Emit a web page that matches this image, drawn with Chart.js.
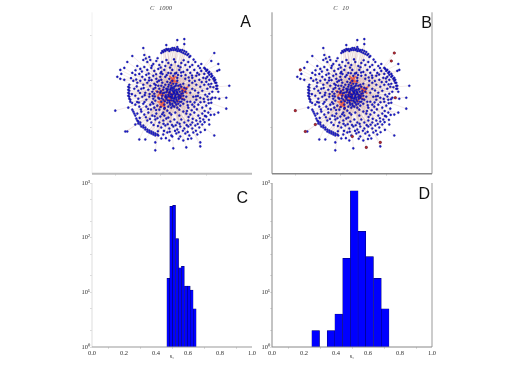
<!DOCTYPE html>
<html>
<head>
<meta charset="utf-8">
<script src="https://cdn.jsdelivr.net/npm/chart.js@4/dist/chart.umd.min.js"></script>
<style>
  html, body { margin: 0; background: #fff; }
  #wrap { position: relative; width: 518px; height: 366px; overflow: hidden; }
  canvas { position: absolute; }
</style>
</head>
<body>
<div id="wrap">
  <canvas id="panelA" width="190" height="178" style="left:70px;top:0"></canvas>
  <canvas id="panelB" width="190" height="178" style="left:250px;top:0"></canvas>
  <canvas id="panelC" width="190" height="182" style="left:70px;top:178px"></canvas>
  <canvas id="panelD" width="190" height="182" style="left:250px;top:178px"></canvas>
</div>
<script>
// graph nodes (same layout in A and B)
const arcNodes = [
  [-12,42],[-11,44],[-10,43],[-9,45],[-8,44],[-7,46],[-6,45],[-5,46],[-4,44],[-3,46],[-2,45],[-1,47],[0,45],[1,47],[2,45],[3,46],[4,44],[5,46],[6,44],[7,45],[8,43],[9,45],[10,42],[11,44],[12,41],[13,43],[14,40],[15,41],[16,38],[17,39],
  [32,26],[33,24],[34,25],[35,22],[36,23],[36,20],[38,21],[38,18],[39,19],[40,16],[41,17],[41,14],[42,15],[42,12],[43,12],[43,9],[44,9],[43,6],[44,6],
  [-44,10],[-45,8],[-44,7],[-45,5],[-44,4],[-45,2],[-44,1],[-45,-1],[-44,-2],[-44,-4],[-43,-5],[-43,-7],
  [-41,-15],[-40,-17],[-39,-19],[-38,-21],[-37,-24],[-36,-26],[-35,-27],[-35,-29],[-33,-28],[-33,-30],[-32,-32],[-30,-31],[-30,-33],[-28,-33],[-28,-35],[-26,-35],[-26,-37],[-24,-36],[-24,-38],[-22,-37],[-22,-39],[-20,-38],[-20,-40],[-18,-39],[-18,-41],[-16,-40],[-15,-41]
];
const outerNodes = [
  [-7,50],[4,48],[11,56],[4,55],[11,51],[41,42],[38,34],[45,31],[46,25],[44,24],[56,9],[45,3],[42,-3],[46,-4],[53,-3],[53,-14],[45,-18],[41,-20],[36,-30],[41,-41],[27,-48],[27,-52],[13,-53],[0,-54],[-18,-56],[-18,-48],[-28,-45],[-34,-45],[-46,-37],[-48,-37],[-58,-16],[-45,-13],[-56,18],[-53,16],[-49,15],[-52,21],[-49,27],[-53,25],[-46,33],[-41,39],[-30,47],[-29,40],[-24,38],[-1,-42],[-38,-30]
];
const midNodes = [
  [-30,35],[-26,33],[-23,35],[-20,31],[-17,34],[-14,30],[-11,33],[-8,29],[-5,32],[-2,30],[2,33],[5,29],[8,32],[12,30],[15,33],[19,30],[22,33],[25,29],[28,31],[31,27],
  [-36,29],[-33,26],[-29,28],[-26,25],[-22,27],[-19,24],[-15,26],[-12,23],[-9,25],[-5,22],[-1,25],[3,22],[6,25],[10,23],[14,25],[17,22],[21,25],[24,22],[28,24],[31,21],[34,18],
  [-41,22],[-38,20],[-34,21],[-31,18],[-27,20],[-24,17],[-20,19],[-17,16],[-13,18],[19,17],[23,19],[26,15],[30,17],[33,13],[36,15],[38,11],
  [-40,14],[-36,12],[-33,14],[-30,10],[-26,12],[-23,9],[-19,11],[23,10],[27,8],[31,10],[34,6],[37,8],[39,3],
  [-39,6],[-35,4],[-32,6],[-28,2],[-25,5],[-21,3],[25,2],[29,4],[32,0],[36,1],[39,-3],
  [-38,-1],[-35,-4],[-31,-2],[-27,-5],[-24,-2],[-20,-4],[23,-5],[27,-3],[31,-7],[35,-5],[38,-8],
  [-38,-10],[-34,-12],[-30,-9],[-27,-12],[-23,-10],[-19,-13],[21,-12],[25,-10],[29,-13],[33,-11],[37,-14],
  [-36,-19],[-32,-17],[-29,-20],[-25,-18],[-21,-21],[-17,-19],[-13,-22],[17,-20],[21,-18],[25,-21],[29,-19],[33,-22],[35,-18],
  [-26,-26],[-22,-28],[-18,-25],[-14,-28],[-10,-26],[-7,-24],[-3,-27],[1,-25],[4,-28],[8,-25],[11,-28],[15,-26],[19,-28],[23,-26],[27,-27],[30,-25],
  [-12,-33],[-8,-31],[-4,-34],[0,-32],[4,-35],[7,-32],[11,-34],[15,-32],[19,-34],[22,-31],[26,-33],[29,-30],
  [-10,-40],[-6,-38],[-2,-41],[3,-39],[7,-42],[12,-39],[16,-41],[20,-38],[24,-40],[18,-44],[10,-46],[-4,-46],[-12,-44],
  [-16,13],[-12,15],[-8,18],[-4,16],[0,19],[4,17],[8,19],[12,16],[16,14],[19,12],[-18,7],[-15,9],[-19,1],[-16,3],[19,6],[17,2],[20,-2],[-18,-6],[-15,-3],[-20,-9],[-16,-11],[17,-7],[19,-10],[15,-13],[-14,-15],[-10,-18],[-6,-16],[-2,-20],[2,-18],[6,-21],[10,-17],[13,-19],[-9,-21],[-5,-23]
];
const looseNodes = [
  [-27.5,36.5],[-21.4,29.2],[-15.7,36.8],[-12.6,27.4],[-6.8,34.9],[-3.3,27.3],[0.7,35.6],[7.2,27.6],[10.4,34.7],[16.6,28.1],[20.3,35.4],[26.7,26.8],
  [-37.8,24.6],[-31.4,23.4],[-24.6,21.3],[-17.2,20.7],[-10.8,20.9],[-6.6,19.7],[1.6,21.3],[7.8,22.4],[12.3,19.8],[18.7,19.4],[25.8,20.3],[32.6,16.4],
  [-42.3,16.7],[-37.1,15.3],[-28.3,15.2],[-21.8,14.7],[-14.3,14.2],[15.4,17.3],[21.6,13.8],[28.4,12.7],[35.3,10.4],[40.1,7.6],
  [-41.4,0.6],[-36.6,8.4],[-33.3,1.7],[-29.6,6.7],[-23.7,0.8],[-18.4,-1.7],[21.7,4.3],[24.6,-1.2],[30.4,-4.2],[34.1,-1.7],[37.7,-4.6],
  [-41.2,-8.3],[-36.2,-7.4],[-32.4,-14.8],[-28.8,-7.3],[-25.2,-14.3],[-21.3,-7.6],[-17.2,-15.4],[18.4,-15.6],[23.6,-14.7],[27.2,-7.6],[31.4,-16.4],[35.4,-8.6],
  [-33.6,-23.3],[-27.4,-22.7],[-23.3,-24.4],[-18.6,-21.7],[-15.8,-23.6],[-11.2,-19.6],[15.3,-22.4],[19.4,-24.3],[26.6,-23.7],[31.7,-21.3],[37.4,-20.3],
  [-19.7,-30.4],[-15.4,-31.6],[-9.8,-29.3],[-5.6,-29.7],[-1.3,-30.4],[2.4,-30.7],[6.3,-29.3],[13.4,-30.6],[17.3,-30.2],[24.4,-29.4],[31.3,-27.6],[35.6,-25.3],
  [-15.4,-36.7],[-9.3,-36.4],[-3.6,-37.3],[1.7,-36.4],[5.4,-37.8],[9.6,-36.3],[14.3,-37.4],[22.6,-36.2],[27.3,-37.7],[31.6,-35.4],[14.7,-44.6],[5.4,-44.3],[-7.4,-43.7],
  [-24.3,14.4],[-28.6,-0.4],[-34.4,-7.8],[-19.8,5.7],[-22.3,-14.8],[-12.8,21.6],[-2.4,21.7],[4.7,19.8],[15.6,9.4],[21.3,-7.7],[13.7,-16.3],[-3.7,-18.4],[-8.7,-13.4],[-17.6,9.7],[-20.6,-1.3],[22.7,-1.6],[14.4,-10.7],[-12.6,-12.4]
];
const coreNodes = [
  [-14,6],[-12,9],[-10,5],[-13,2],[-11,-1],[-14,-4],[-12,-7],[-9,-10],[-10,-5],[-8,-2],[-9,2],[-7,6],[-8,10],[-6,13],[-5,8],[-6,4],[-5,0],[-7,-4],[-6,-8],[-5,-12],[-3,-10],[-4,-6],[-3,-2],[-4,2],[-3,5],[-2,9],[-3,12],[-1,14],[0,11],[-1,7],[0,3],[-1,0],[-2,-3],[0,-6],[-1,-9],[-2,-13],[1,-12],[2,-8],[1,-4],[2,-1],[1,2],[3,5],[1,8],[3,11],[4,14],[5,9],[6,6],[4,2],[5,-2],[3,-5],[5,-9],[4,-13],[7,-11],[8,-7],[7,-3],[8,1],[9,4],[8,8],[10,11],[11,7],[12,3],[10,-1],[11,-5],[10,-9],[13,-2],[14,-7],[13,6],[-11,12],[-9,-14],[6,-15],
  [-12.5,3.5],[-11.5,-3.5],[-10.5,1.5],[-9.5,7.5],[-8.5,-6.5],[-7.5,-0.5],[-7,2.5],[-6.5,-2.5],[-5.5,5.5],[-5.5,-5.5],[-4.5,-1.5],[-4.5,10],[-3.5,-8],[-3.5,3],[-2.5,0.5],[-2.5,6.5],[-2,-5.5],[-1.5,-1.5],[-1,4.5],[-0.5,-11],[-0.5,-3.5],[0.5,1],[0.5,6],[1,-7],[1.5,-2.5],[1.5,4],[2.5,0.5],[2.5,9],[3,-3],[3,-10],[3.5,3],[4,-6.5],[4.5,0.5],[5,5],[5.5,-4],[6,-0.5],[6.5,3],[6.5,-7],[7,10],[7.5,-1.5],[9,-4.5],[9.5,1.5]
];
// nodes that are red in panel B only
const redNodes = [[41,42],[38,34],[-53,25],[-58,-16],[-48,-37],[27,-48],[13,-53],[-1,-42],[-38,-30],[42,-3]];

const edgeHubs = [[-10,-8],[0,15],[10,5],[-13,2],[-5,-2],[5,-5],[0,0],[-3,6]];
const hotEdges = [
  [[-10,-8],[-14,-13]],[[-10,-8],[-8,-15]],[[-10,-8],[-16,-7]],[[-10,-8],[-6,-4]],[[-11,-10],[-13,-5]],[[-12,-11],[-8,-12]],[[-9,-12],[-14,-9]],
  [[0,15],[-4,19]],[[0,15],[3,19]],[[0,15],[-2,10]],[[0,15],[5,12]],[[1,18],[-3,13]],[[-2,17],[2,12]],
  [[10,5],[15,8]],[[10,5],[14,1]],[[10,5],[6,9]],[[10,5],[8,0]],[[12,7],[9,2]],[[13,4],[8,6]],
  [[-13,2],[-18,4]],[[-13,2],[-16,-2]],[[-13,2],[-9,-1]],[[-13,2],[-10,6]],[[-15,3],[-11,-2]],
  [[-5,-2],[-9,-3]],[[-5,-2],[-2,-7]],[[-5,-2],[-1,2]],[[6,-3],[11,-4]],[[6,-3],[4,-8]],[[6,-3],[9,1]],[[-4,-5],[0,-1]],[[-3,1],[-7,3]],[[3,1],[7,-1]]
];

const xTicksGraph = [-58, -13, 33];
const yTicksGraph = [60, 14, -33];
const histTicksMajor = [1, 10, 100, 1000];
const histTicksAll = [1, 2, 5, 10, 20, 50, 100, 200, 500, 1000];
const expLabels = { 1: '10⁰', 10: '10¹', 100: '10²', 1000: '10³' };

// histogram C
const binsC = [0.477, 0.495, 0.513, 0.532, 0.550, 0.568, 0.587, 0.605, 0.623, 0.642];
const countsC = [18, 374, 390, 96, 28, 30, 13, 13, 11, 5];
// histogram D (one empty bin at 0.3 is left out, log axis)
const binsD = [0.273, 0.369, 0.417, 0.466, 0.514, 0.562, 0.610, 0.659, 0.707];
const countsD = [2, 2, 4, 42, 720, 130, 45, 18, 5];

const allNodes = arcNodes.concat(outerNodes, midNodes, looseNodes, coreNodes);
const toPoints = list => list.map(p => ({ x: p[0], y: p[1] }));

function segments(pairs) {
  const out = [];
  pairs.forEach(p => {
    out.push({ x: p[0][0], y: p[0][1] }, { x: p[1][0], y: p[1][1] }, { x: null, y: null });
  });
  return out;
}

const paleEdges = segments(allNodes.map((n, i) => [n, edgeHubs[i % edgeHubs.length]]));

// frame lines and the panel letter, placed from the chart area
const panelDeco = {
  id: 'panelDeco',
  afterDraw(chart, args, opts) {
    const { ctx, chartArea: a } = chart;
    ctx.save();
    const line = (edge, x1, y1, x2, y2) => {
      if (!edge) return;
      ctx.strokeStyle = edge[0];
      ctx.lineWidth = edge[1];
      ctx.beginPath();
      ctx.moveTo(x1, y1);
      ctx.lineTo(x2, y2);
      ctx.stroke();
    };
    line(opts.left, a.left, a.top, a.left, a.bottom);
    line(opts.right, a.right, a.top, a.right, a.bottom);
    line(opts.bottom, a.left, a.bottom, a.right, a.bottom);
    ctx.fillStyle = '#111';
    ctx.font = '16px "Liberation Sans"';
    ctx.textAlign = 'right';
    ctx.fillText(opts.letter, a.right - opts.dx, a.top + opts.dy);
    ctx.restore();
  }
};

const tickFont = { family: '"Liberation Serif"', size: 6.5 };
const paleGrid = { drawOnChartArea: false, tickLength: 2, color: '#c4c4c4', lineWidth: 0.6 };

function graphPanel(id, titleText, deco, withRed) {
  const datasets = [];
  if (withRed) {
    datasets.push({ data: toPoints(redNodes), pointRadius: 1.3, pointBorderWidth: 0.3, pointBackgroundColor: '#b02a2a', pointBorderColor: '#702020' });
  }
  datasets.push(
    { data: toPoints(allNodes), pointRadius: 1.05, pointBorderWidth: 0.3, pointBackgroundColor: '#1a1ad0', pointBorderColor: '#000070' },
    { data: segments(hotEdges), showLine: true, spanGaps: false, pointRadius: 0, borderWidth: 1.6, borderColor: 'rgba(240,70,40,0.75)' },
    { data: paleEdges, showLine: true, spanGaps: false, pointRadius: 0, borderWidth: 0.7, borderColor: 'rgba(215,180,175,0.38)' }
  );
  new Chart(document.getElementById(id), {
    type: 'scatter',
    data: { datasets },
    plugins: [panelDeco],
    options: {
      responsive: false,
      animation: false,
      layout: { padding: { right: 8 } },
      plugins: {
        legend: { display: false },
        tooltip: { enabled: false },
        title: {
          display: true,
          text: titleText,
          color: '#444',
          font: { family: '"Liberation Serif"', size: 6.5, style: 'italic', weight: 'normal' },
          padding: { top: 4, bottom: 0.5 }
        },
        panelDeco: deco
      },
      scales: {
        x: {
          min: -81.3, max: 78.7,
          grid: paleGrid, border: { display: false },
          ticks: { display: false },
          afterBuildTicks: s => { s.ticks = xTicksGraph.map(v => ({ value: v })); },
          afterFit: s => { s.height = 3.5; }
        },
        y: {
          min: -79.5, max: 83,
          grid: paleGrid, border: { display: false },
          ticks: { display: false },
          afterBuildTicks: s => { s.ticks = yTicksGraph.map(v => ({ value: v })); },
          afterFit: s => { s.width = 22; }
        }
      }
    }
  });
}

function histPanel(id, bins, counts, deco) {
  new Chart(document.getElementById(id), {
    type: 'bar',
    data: {
      datasets: [{
        data: bins.map((b, i) => ({ x: b, y: counts[i] })),
        backgroundColor: '#0000ff',
        borderColor: '#00005a',
        borderWidth: 0.5,
        barPercentage: 1,
        categoryPercentage: 1
      }]
    },
    plugins: [panelDeco],
    options: {
      responsive: false,
      animation: false,
      layout: { padding: { top: 5, right: 8 } },
      plugins: { legend: { display: false }, tooltip: { enabled: false }, panelDeco: deco },
      scales: {
        x: {
          type: 'linear',
          offset: false,
          min: 0, max: 1,
          grid: paleGrid, border: { display: false },
          ticks: { stepSize: 0.2, font: tickFont, color: '#333', padding: 0, maxRotation: 0, minRotation: 0, callback: v => v.toFixed(1) },
          title: { display: true, text: 's₁', color: '#333', font: { family: '"Liberation Serif"', size: 6 }, padding: 0 },
          afterFit: s => { s.height = 13; }
        },
        y: {
          type: 'logarithmic',
          min: 1, max: 1000,
          grid: paleGrid, border: { display: false },
          ticks: {
            font: tickFont, color: '#333', padding: 0, autoSkip: false,
            callback: v => histTicksMajor.includes(v) ? expLabels[v] : ''
          },
          afterBuildTicks: s => { s.ticks = histTicksAll.map(v => ({ value: v })); },
          afterFit: s => { s.width = 22; }
        }
      }
    }
  });
}

graphPanel('panelA', 'C   1000', { letter: 'A', dx: 1, dy: 15, left: ['#f0f0f0', 1], bottom: ['#bbbbbb', 2] }, false);
graphPanel('panelB', 'C   10', { letter: 'B', dx: 0, dy: 16, left: ['#888888', 1], right: ['#999999', 1], bottom: ['#888888', 1.5] }, true);
histPanel('panelC', binsC, countsC, { letter: 'C', dx: 4, dy: 20, left: ['#dddddd', 1], bottom: ['#999999', 1] });
histPanel('panelD', binsD, countsD, { letter: 'D', dx: 2, dy: 16, left: ['#888888', 1], right: ['#999999', 1], bottom: ['#888888', 1] });
</script>
</body>
</html>
